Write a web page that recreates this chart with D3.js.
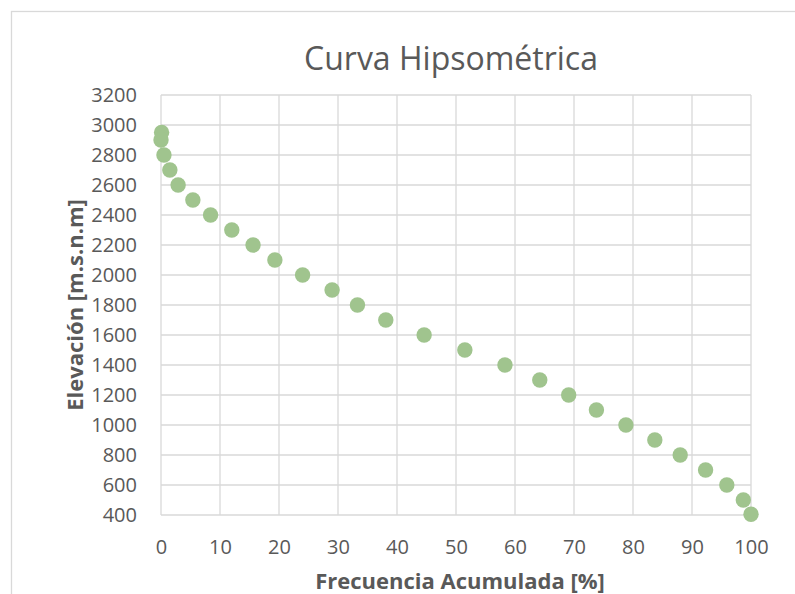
<!DOCTYPE html>
<html>
<head>
<meta charset="utf-8">
<script src="https://cdn.jsdelivr.net/npm/d3@7"></script>
<style>
  body { margin: 0; background: #fff; }
  svg text { font-family: "Open Sans", sans-serif; fill: #595959; }
</style>
</head>
<body>
<div id="chart"></div>
<script>
// data
var frecuencia = [0.1, 0, 0.5, 1.5, 2.9, 5.4, 8.4, 12.0, 15.6, 19.3, 24.0, 29.0, 33.3, 38.1,
    44.6, 51.5, 58.3, 64.2, 69.1, 73.8, 78.8, 83.7, 88.0, 92.3, 95.9, 98.7, 100];
var elevacion = [2950, 2900, 2800, 2700, 2600, 2500, 2400, 2300, 2200, 2100, 2000, 1900, 1800, 1700,
    1600, 1500, 1400, 1300, 1200, 1100, 1000, 900, 800, 700, 600, 500, 405];
var xTicks = [0, 10, 20, 30, 40, 50, 60, 70, 80, 90, 100];
var yTicks = [400, 600, 800, 1000, 1200, 1400, 1600, 1800, 2000, 2200, 2400, 2600, 2800, 3000, 3200];

var W = 795, H = 594;
var margin = { top: 95, left: 161, bottom: 79, right: 44 },
    width = W - margin.left - margin.right,
    height = H - margin.top - margin.bottom;

var root = d3.select('#chart').append('svg')
    .attr('width', W)
    .attr('height', H);

// outer chart border
root.append('rect')
    .attr('x', 11.5).attr('y', 11.5)
    .attr('width', 800).attr('height', 600)
    .attr('fill', 'none')
    .attr('stroke', '#d9d9d9')
    .attr('stroke-width', 1.3);

var svg = root.append('g')
    .attr('transform', 'translate(' + margin.left + ',' + margin.top + ')');

var x = d3.scaleLinear().domain([0, 100]).range([0, width]);
var y = d3.scaleLinear().domain([400, 3200]).range([height, 0]);

// grid
svg.append('g')
    .selectAll('line')
    .data(yTicks)
    .enter().append('line')
    .attr('x1', 0).attr('x2', width)
    .attr('y1', d => y(d)).attr('y2', d => y(d))
    .attr('stroke', '#d9d9d9').attr('stroke-width', 1.3);

svg.append('g')
    .selectAll('line')
    .data(xTicks)
    .enter().append('line')
    .attr('y1', 0).attr('y2', height)
    .attr('x1', d => x(d)).attr('x2', d => x(d))
    .attr('stroke', '#d9d9d9').attr('stroke-width', 1.3);

// axes (labels only)
var xAxis = d3.axisBottom(x).tickValues(xTicks).tickSize(0).tickPadding(25).tickFormat(d3.format('d'));
var yAxis = d3.axisLeft(y).tickValues(yTicks).tickSize(0).tickPadding(24).tickFormat(d3.format('d'));

svg.append('g')
    .attr('transform', 'translate(0,' + height + ')')
    .call(xAxis)
    .call(g => g.select('.domain').remove())
    .selectAll('text')
    .style('font-size', '20px');

svg.append('g')
    .call(yAxis)
    .call(g => g.select('.domain').remove())
    .selectAll('text')
    .style('font-size', '20px');

// points
svg.selectAll('.dot')
    .data(frecuencia.map((f, i) => ({ f: f, e: elevacion[i] })))
    .enter()
    .append('circle')
    .attr('class', 'dot')
    .attr('cx', d => x(d.f))
    .attr('cy', d => y(d.e))
    .attr('r', 7.7)
    .attr('fill', '#a0c48e');

// title and labels
root.append('text')
    .attr('x', 451).attr('y', 70)
    .attr('text-anchor', 'middle')
    .style('font-size', '32px')
    .text('Curva Hipsométrica');

root.append('text')
    .attr('x', 460).attr('y', 589)
    .attr('text-anchor', 'middle')
    .style('font-size', '22px')
    .style('font-weight', 'bold')
    .text('Frecuencia Acumulada [%]');

root.append('text')
    .attr('transform', 'translate(83,305) rotate(-90)')
    .attr('text-anchor', 'middle')
    .style('font-size', '22px')
    .style('font-weight', 'bold')
    .text('Elevación [m.s.n.m]');
</script>
</body>
</html>
